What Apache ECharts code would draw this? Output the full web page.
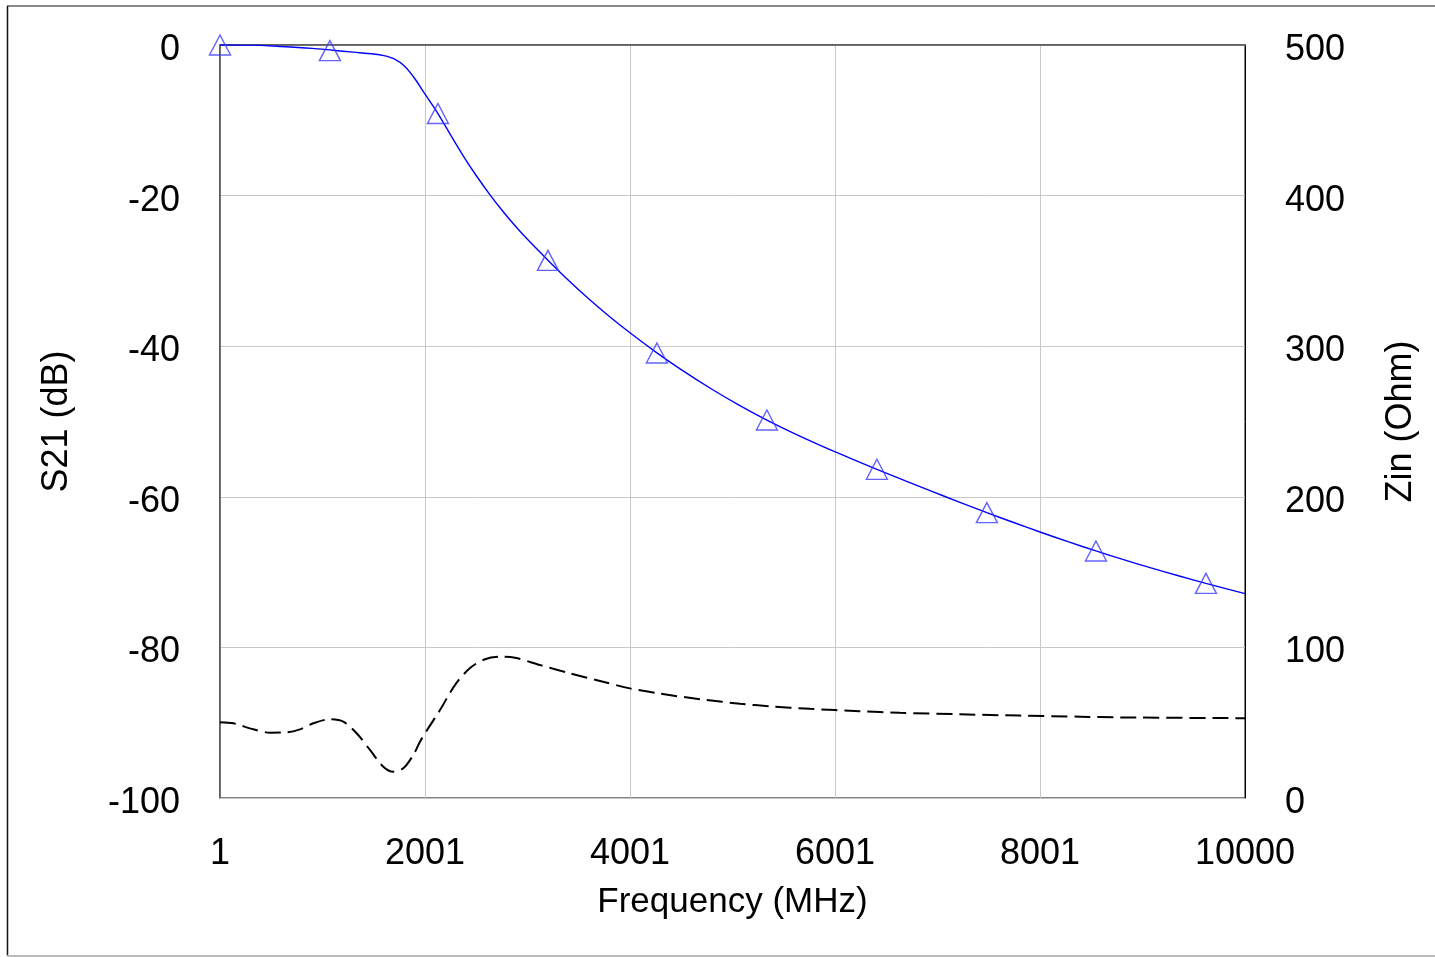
<!DOCTYPE html>
<html>
<head>
<meta charset="utf-8">
<script src="https://cdn.jsdelivr.net/npm/echarts@6/dist/echarts.min.js"></script>
<style>
  html, body { margin: 0; padding: 0; background: #fff; }
  #chart { width: 1435px; height: 957px; }
</style>
</head>
<body>
<div id="chart"></div>
<script>
  // S21 (dB) trace
  var s21Freq = [1, 300, 600, 900, 1100, 1300, 1500, 1600, 1700, 1800, 1900, 2000, 2127, 2250, 2375, 2500,
                 2635, 2750, 2875, 3000, 3200, 3400, 3600, 3800, 4000, 4263, 4500, 4800, 5068, 5336, 5600,
                 5873, 6140, 6409, 6700, 6946, 7200, 7482, 7750, 8014, 8280, 8546, 8800, 9083, 9350, 9619, 10000];
  var s21Db = [0, -0.02, -0.2, -0.45, -0.7, -0.95, -1.2, -1.42, -1.85, -2.8, -4.45, -6.5, -9.1, -11.94, -14.75,
               -17.33, -19.9, -21.91, -23.94, -25.81, -28.57, -31.24, -33.74, -36.06, -38.22, -40.88, -43.11,
               -45.72, -47.86, -49.82, -51.59, -53.28, -54.83, -56.35, -57.95, -59.28, -60.63, -62.1, -63.45,
               -64.74, -65.99, -67.19, -68.28, -69.44, -70.48, -71.49, -72.86];

  // triangle markers on the S21 trace
  var markFreq = [1, 1073, 2127, 3200, 4263, 5336, 6409, 7482, 8546, 9619];
  var markDb = [0, -0.75, -9.1, -28.6, -40.9, -49.8, -56.35, -62.1, -67.2, -71.5];

  // Zin (Ohm) trace, right axis
  var zinFreq = [1, 131, 326, 489, 652, 781, 911, 1074, 1204, 1334, 1464, 1594, 1692, 1789, 1887, 1952,
                 2020, 2147, 2293, 2440, 2586, 2732, 2879, 3123, 3415, 3708, 4001, 4293, 4684, 5074,
                 5366, 5756, 6244, 6634, 7220, 7805, 8390, 8780, 10000];
  var zinOhm = [50.3, 49.6, 45.6, 43.4, 43.6, 45.6, 49.6, 52.3, 50.7, 43.0, 31.9, 20.8, 17.5, 19.7, 28.6,
                37.4, 45, 58.4, 75, 86.3, 92.1, 93.8, 93.1, 88.3, 82.8, 77.7, 72.8, 69.3, 65.6, 62.6,
                60.9, 59.2, 57.6, 56.6, 55.6, 54.7, 54.0, 53.5, 53.0];

  function pairs(xs, ys) {
    return xs.map(function (x, i) { return [x, ys[i]]; });
  }

  var font = 'Liberation Sans, Arial, sans-serif';
  var plain = function (v) { return String(v); };
  var chart = echarts.init(document.getElementById('chart'));

  var option = {
    backgroundColor: '#fff',
    animation: false,
    graphic: [
      { type: 'line', shape: { x1: 7, y1: 6, x2: 1435, y2: 6 }, style: { stroke: '#888', lineWidth: 2 }, silent: true },
      { type: 'line', shape: { x1: 7.5, y1: 6, x2: 7.5, y2: 956 }, style: { stroke: '#111', lineWidth: 1.5 }, silent: true },
      { type: 'line', shape: { x1: 7, y1: 956, x2: 1435, y2: 956 }, style: { stroke: '#bbb', lineWidth: 2 }, silent: true }
    ],
    grid: {
      left: 220, right: 190, top: 45, bottom: 159,
      show: true, borderColor: '#000', borderWidth: 1, backgroundColor: 'transparent'
    },
    xAxis: {
      type: 'value',
      min: 1, max: 10000, interval: 2000,
      name: 'Frequency (MHz)', nameLocation: 'middle', nameGap: 87,
      nameTextStyle: { fontSize: 35, color: '#000', fontFamily: font },
      axisLine: { show: true, lineStyle: { color: '#555', width: 1.5 } },
      axisTick: { show: false },
      axisLabel: { fontSize: 36, color: '#000', fontFamily: font, margin: 38, showMaxLabel: true, formatter: plain },
      splitLine: { show: true, lineStyle: { color: '#c8c8c8', width: 1 } }
    },
    yAxis: [{
      type: 'value',
      min: -100, max: 0, interval: 20,
      name: 'S21 (dB)', nameLocation: 'middle', nameGap: 145, nameRotate: 90,
      nameTextStyle: { fontSize: 36, color: '#000', fontFamily: font },
      axisLine: { show: true, lineStyle: { color: '#555', width: 1.5 } },
      axisTick: { show: false },
      axisLabel: { fontSize: 36, color: '#000', fontFamily: font, margin: 40, verticalAlign: 'top', lineHeight: 10, formatter: plain },
      splitLine: { show: true, lineStyle: { color: '#c8c8c8', width: 1 } }
    }, {
      type: 'value',
      position: 'right',
      min: 0, max: 500, interval: 100,
      name: 'Zin (Ohm)', nameLocation: 'middle', nameGap: 138, nameRotate: 90,
      nameTextStyle: { fontSize: 36, color: '#000', fontFamily: font },
      axisLine: { show: true, lineStyle: { color: '#000', width: 1 } },
      axisTick: { show: false },
      axisLabel: { fontSize: 36, color: '#000', fontFamily: font, margin: 40, verticalAlign: 'top', lineHeight: 10, formatter: plain },
      splitLine: { show: false }
    }],
    series: [{
      name: 'S21',
      type: 'line',
      yAxisIndex: 0,
      data: pairs(s21Freq, s21Db),
      smooth: 0.3,
      showSymbol: false,
      lineStyle: { color: '#0000ff', width: 1.4 },
      z: 3
    }, {
      name: 'S21 markers',
      type: 'scatter',
      yAxisIndex: 0,
      data: pairs(markFreq, markDb),
      symbol: 'triangle',
      symbolSize: [21, 20],
      clip: true,
      itemStyle: { color: 'rgba(0,0,0,0)', borderColor: '#3c3cff', borderWidth: 1.4 },
      z: 4
    }, {
      name: 'Zin',
      type: 'line',
      yAxisIndex: 1,
      data: pairs(zinFreq, zinOhm),
      smooth: 0.3,
      showSymbol: false,
      lineStyle: { color: '#000', width: 2, type: [16, 7] },
      z: 3
    }]
  };

  chart.setOption(option);
</script>
</body>
</html>
